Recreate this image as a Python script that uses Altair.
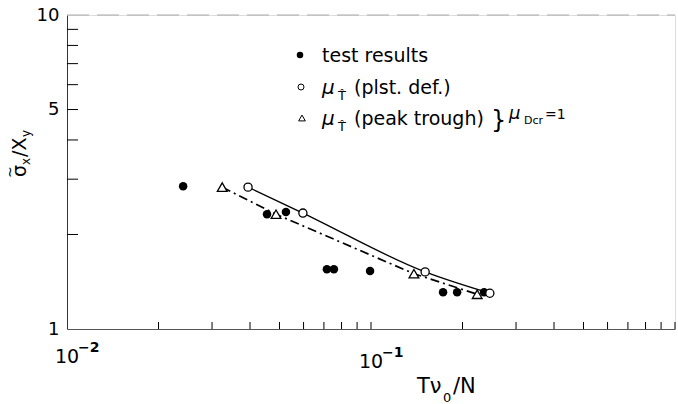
import altair as alt
import pandas as pd

# ---------------- data ----------------
test_x = [0.0241, 0.0455, 0.0525, 0.0716, 0.0755, 0.0993, 0.1726, 0.192, 0.2355]
test_y = [2.85, 2.32, 2.36, 1.55, 1.55, 1.53, 1.31, 1.31, 1.31]

plst_x = [0.0394, 0.0597, 0.1507, 0.246]
plst_y = [2.83, 2.34, 1.52, 1.30]

peak_x = [0.0324, 0.0487, 0.1384, 0.2235]
peak_y = [2.83, 2.32, 1.50, 1.29]

x_ticks = [0.02, 0.03, 0.04, 0.05, 0.06, 0.07, 0.08, 0.09, 0.1,
           0.2, 0.3, 0.4, 0.5, 0.6, 0.7, 0.8, 0.9, 1.0]
y_ticks = [2, 3, 4, 5, 6, 7, 8, 9]
y_labels = [1, 5, 10]

W, H = 608, 314
FONT = "DejaVu Sans"

test_df = pd.DataFrame({"x": test_x, "y": test_y})
plst_df = pd.DataFrame({"x": plst_x, "y": plst_y})
peak_df = pd.DataFrame({"x": peak_x, "y": peak_y})

xs = alt.Scale(type="log", domain=[0.01, 1.0], nice=False)
ys = alt.Scale(type="log", domain=[1, 10], nice=False)

x_axis = alt.Axis(title=None, labels=False, ticks=False, grid=False,
                  domainColor="#555", domainWidth=1)
y_axis = alt.Axis(title=None, values=y_labels, ticks=False, grid=False,
                  domainColor="#333", domainWidth=1, labelFont=FONT,
                  labelFontSize=18, labelColor="black", labelPadding=8,
                  labelFlush=False)

X = alt.X("x:Q", scale=xs, axis=x_axis)
Y = alt.Y("y:Q", scale=ys, axis=y_axis)

solid = alt.Chart(plst_df).mark_line(color="black", strokeWidth=1.3,
                                     interpolate="monotone").encode(x=X, y=Y)
dashdot = alt.Chart(peak_df).mark_line(color="black", strokeWidth=1.7,
                                       strokeDash=[9, 4, 2, 4]).encode(x=X, y=Y)
filled = alt.Chart(test_df).mark_point(shape="circle", filled=True, color="black",
                                       size=72, opacity=1).encode(x=X, y=Y)
opens = alt.Chart(plst_df).mark_point(shape="circle", filled=True, fill="white",
                                      stroke="black", strokeWidth=1.3, size=66,
                                      opacity=1).encode(x=X, y=Y)
tris = alt.Chart(peak_df).mark_point(shape="triangle-up", filled=True, fill="white",
                                     stroke="black", strokeWidth=1.3, size=95,
                                     opacity=1).encode(x=X, y=Y)

# inward tick marks
xt = alt.Chart(pd.DataFrame({"x": x_ticks})).mark_rule(color="black", strokeWidth=1).encode(
    x=alt.X("x:Q", scale=xs), y=alt.value(H), y2=alt.value(H - 7))
yt = alt.Chart(pd.DataFrame({"y": y_ticks})).mark_rule(color="black", strokeWidth=1).encode(
    y=alt.Y("y:Q", scale=ys), x=alt.value(0), x2=alt.value(11))
top = alt.Chart(pd.DataFrame({"a": [0]})).mark_rule(color="#aaa", strokeWidth=1,
                                                    strokeDash=[22, 8]).encode(
    x=alt.value(0), x2=alt.value(W), y=alt.value(0))


def txt(s, x, y, size=19, angle=0, style="normal", weight="normal"):
    return alt.Chart(pd.DataFrame({"a": [0]})).mark_text(
        text=s, font=FONT, fontSize=size, align="left", baseline="alphabetic",
        angle=angle, fontStyle=style, fontWeight=weight, color="black").encode(
        x=alt.value(x), y=alt.value(y))


def xlab(v, base, sup, dy, size=19):
    t1 = alt.Chart(pd.DataFrame({"a": [0]})).mark_text(
        text=base, font=FONT, fontSize=size, align="center", baseline="alphabetic",
        color="black", dy=dy).encode(x=alt.datum(v, scale=xs), y=alt.value(H))
    t2 = alt.Chart(pd.DataFrame({"a": [0]})).mark_text(
        text=sup, font=FONT, fontSize=14, fontWeight="bold", align="left",
        baseline="alphabetic", color="black", dx=11, dy=dy - 11).encode(
        x=alt.datum(v, scale=xs), y=alt.value(H))
    return [t1, t2]


labels = []
labels += xlab(0.01, "10", "−2", 34)
labels += xlab(0.1, "10", "−1", 39)

# x-axis title  T ν0 / N
labels += [txt("Tν", 350, 378, 21), txt("0", 376, 387, 13), txt("/N", 386, 378, 21)]

# y-axis title  σ~x / Xy (rotated, reading upward)
labels += [txt("σ", -41, 162, 19, angle=270), txt("~", -52, 163, 14, angle=270),
           txt("x", -37, 150, 12, angle=270),
           txt("/X", -41, 142, 19, angle=270), txt("y", -37, 122, 12, angle=270)]

# legend
leg_pts = [
    alt.Chart(pd.DataFrame({"a": [0]})).mark_point(shape="circle", filled=True, color="black",
                                                   size=42, opacity=1).encode(
        x=alt.value(233), y=alt.value(40)),
    alt.Chart(pd.DataFrame({"a": [0]})).mark_point(shape="circle", filled=True, fill="white",
                                                   stroke="black", strokeWidth=1, size=36,
                                                   opacity=1).encode(
        x=alt.value(234), y=alt.value(72)),
    alt.Chart(pd.DataFrame({"a": [0]})).mark_point(shape="triangle-up", filled=True, fill="white",
                                                   stroke="black", strokeWidth=1, size=45,
                                                   opacity=1).encode(
        x=alt.value(235), y=alt.value(103)),
]
labels += [txt("test  results", 255, 47, 19)]
labels += [txt("μ", 255, 79, 20, style="italic"), txt("T\u0302", 271, 85, 13),
           txt("(plst. def.)", 287, 79, 19)]
labels += [txt("μ", 255, 110, 20, style="italic"), txt("T\u0302", 271, 116, 13),
           txt("(peak trough)", 287, 110, 19)]
labels += [txt("}", 424, 113, 24), txt("μ", 442, 104, 18, style="italic"),
           txt("Dcr", 457, 109, 11), txt("=1", 478, 104, 14)]

chart = alt.layer(
    top, xt, yt, solid, dashdot, filled, opens, tris, *leg_pts, *labels
).properties(
    width=W, height=H,
    autosize=alt.AutoSizeParams(type="none"),
    padding={"left": 67, "top": 15, "right": 3, "bottom": 75},
).configure_view(stroke=None).configure(background="white")

chart.save("out.html", embed_options={"renderer": "svg", "actions": False})
